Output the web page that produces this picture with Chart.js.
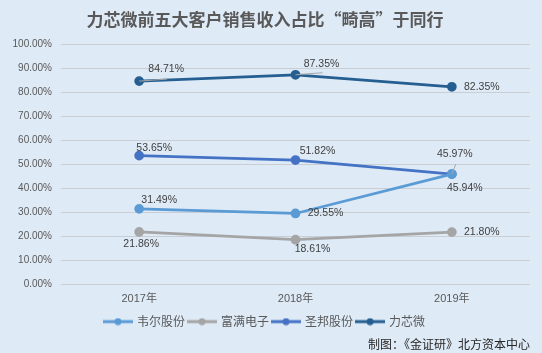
<!DOCTYPE html>
<html>
<head>
<meta charset="utf-8">
<script src="https://cdn.jsdelivr.net/npm/chart.js@4.4.1/dist/chart.umd.min.js"></script>
<style>
  html, body { margin: 0; padding: 0; background: #DEEAF6; }
  #wrap { width: 542px; height: 353px; }
</style>
</head>
<body>
<div id="wrap"><canvas id="chart"></canvas></div>
<script>
const years = ["2017年", "2018年", "2019年"];
const seriesNames = ["韦尔股份", "富满电子", "圣邦股份", "力芯微"];
const weier = [31.49, 29.55, 45.94];
const fuman = [21.86, 18.61, 21.80];
const shengbang = [53.65, 51.82, 45.97];
const lixinwei = [84.71, 87.35, 82.35];
const yTicks = [0, 10, 20, 30, 40, 50, 60, 70, 80, 90, 100];

const colors = ["#5B9BD5", "#A5A5A5", "#4472C4", "#255E91"];
const font = "'Liberation Sans', 'Noto Sans CJK SC', sans-serif";

// label offsets from each point [dx, dy], optional leader end [lx, ly]
const labelPos = [
  [[20, -9], [30, 0], [13, 14]],
  [[2, 12], [17, 9], [30, 0]],
  [[15, -8], [22, -9], [3, -20, 4, -10]],
  [[27, -12, 28, -2], [26, -11, 27, -2], [30, 0]]
];

function legendIcon(color) {
  const c = document.createElement("canvas");
  c.width = 30; c.height = 8;
  const g = c.getContext("2d");
  g.strokeStyle = color; g.lineWidth = 3;
  g.beginPath(); g.moveTo(0, 4); g.lineTo(30, 4); g.stroke();
  g.fillStyle = color;
  g.beginPath(); g.arc(15, 4, 3.5, 0, Math.PI * 2); g.fill();
  return c;
}
const icons = colors.map(legendIcon);

const pointLabels = {
  id: "pointLabels",
  afterDatasetsDraw(chart) {
    const ctx = chart.ctx;
    ctx.save();
    ctx.font = "10.5px " + font;
    ctx.fillStyle = "#404040";
    ctx.textAlign = "center";
    ctx.textBaseline = "middle";
    chart.data.datasets.forEach((ds, i) => {
      chart.getDatasetMeta(i).data.forEach((pt, j) => {
        const p = labelPos[i][j];
        if (p.length > 2) {
          ctx.strokeStyle = "#A6A6A6";
          ctx.lineWidth = 1;
          ctx.beginPath();
          ctx.moveTo(pt.x, pt.y);
          ctx.lineTo(pt.x + p[2], pt.y + p[3]);
          ctx.stroke();
        }
        ctx.fillText(ds.data[j].toFixed(2) + "%", pt.x + p[0], pt.y + p[1]);
      });
    });
    ctx.restore();
  }
};

const data = [weier, fuman, shengbang, lixinwei];

new Chart(document.getElementById("chart"), {
  type: "line",
  data: {
    labels: years,
    datasets: seriesNames.map((name, i) => ({
      label: name,
      data: data[i],
      borderColor: colors[i],
      backgroundColor: colors[i],
      borderWidth: 2.75,
      pointRadius: 3.5,
      pointHoverRadius: 3.5,
      tension: 0
    }))
  },
  options: {
    responsive: true,
    maintainAspectRatio: false,
    animation: false,
    layout: { padding: { left: 0, right: 12, top: 4, bottom: 1 } },
    plugins: {
      title: {
        display: true,
        text: "力芯微前五大客户销售收入占比“畸高”于同行",
        color: "#595959",
        font: { family: "'Noto Sans CJK SC', sans-serif", size: 17, weight: "bold" },
        padding: { top: 5, bottom: 15 }
      },
      legend: {
        position: "bottom",
        labels: {
          usePointStyle: true,
          pointStyleWidth: 26,
          padding: 4,
          color: "#595959",
          font: { family: "'Noto Sans CJK SC', sans-serif", size: 12 },
          generateLabels(chart) {
            return Chart.defaults.plugins.legend.labels.generateLabels(chart).map((l, i) => {
              l.pointStyle = icons[i];
              return l;
            });
          }
        }
      },
      subtitle: {
        display: true,
        position: "bottom",
        align: "end",
        text: "制图：《金证研》北方资本中心",
        color: "#262626",
        font: { family: "'Noto Sans CJK SC', sans-serif", size: 12 },
        padding: { top: 0, bottom: 0 }
      },
      tooltip: { enabled: false }
    },
    scales: {
      x: {
        offset: true,
        grid: { display: false },
        border: { display: false },
        afterFit(axis) { axis.height += 6; },
        ticks: { color: "#595959", font: { family: font, size: 11 }, padding: 0 }
      },
      y: {
        min: 0,
        max: 100,
        afterBuildTicks(axis) { axis.ticks = yTicks.map(v => ({ value: v })); },
        afterFit(axis) { axis.width = 61; },
        grid: { color: "#C9CED4", lineWidth: 1, drawTicks: false },
        border: { display: false },
        ticks: {
          color: "#595959",
          font: { family: font, size: 10 },
          padding: 9,
          callback: v => v.toFixed(2) + "%"
        }
      }
    }
  },
  plugins: [pointLabels]
});
</script>
</body>
</html>
